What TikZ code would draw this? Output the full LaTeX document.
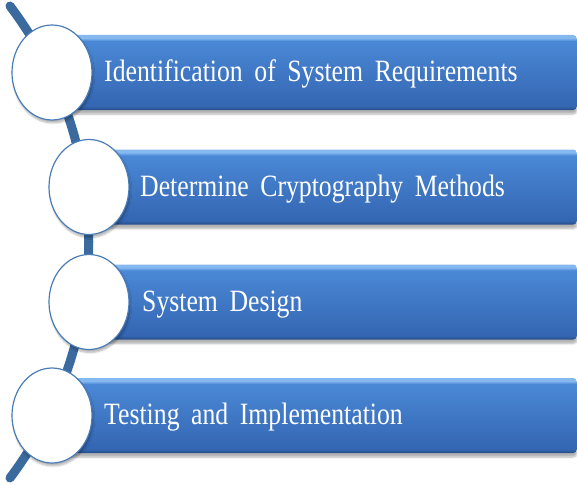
\documentclass[tikz,border=0pt]{standalone}
\usepackage{fontspec}
\setmainfont{Liberation Serif}
\usepackage{graphicx}
\usetikzlibrary{calc,positioning,shapes.geometric,shadows.blur}

\definecolor{spineblue}{HTML}{3A6A9E}
\definecolor{barLight}{HTML}{86B8F0}
\definecolor{barHigh}{HTML}{4A88D6}
\definecolor{barLow}{HTML}{3466B2}
\definecolor{barDark}{HTML}{254C85}
\definecolor{dotline}{HTML}{4A7DB8}

% bevelled bar: light rim on top, dark rim at the bottom
\pgfdeclareverticalshading{barshade}{100bp}{color(0bp)=(barDark); color(25bp)=(barDark); color(27.5bp)=(barLow); color(71bp)=(barHigh); color(73bp)=(barLight); color(75bp)=(barLight); color(100bp)=(barLight)}

% narrow the labels a little and open up the word gaps
\newcommand{\squeeze}[1]{\scalebox{0.83}[1]{\spaceskip=0.45em plus 0.1em\relax #1}}

\begin{document}
\begin{tikzpicture}[x=1pt, y=-1pt,
  stepbar/.style={rectangle, rounded corners=4pt, shading=barshade, minimum height=75pt,
    anchor=west, inner sep=0pt, blur shadow={shadow xshift=0pt, shadow yshift=-4pt, shadow opacity=30, shadow blur steps=6}},
  stepdot/.style={ellipse, draw=dotline, line width=1.2pt, fill=white, minimum width=80pt, minimum height=95pt,
    inner sep=0pt, blur shadow={shadow xshift=1pt, shadow yshift=-3pt, shadow opacity=30, shadow blur steps=6}},
  steptext/.style={anchor=base west, text=white, inner sep=0pt, font=\fontsize{31}{32}\selectfont},
  spine/.style={line width=9pt, draw=spineblue, line cap=round}
]
\useasboundingbox (0,0) rectangle (577,484);

% the curved spine behind everything
\coordinate (spinetop) at (10,6);
\coordinate (spinebot) at (10,478);
\draw[spine] (spinetop) .. controls (115,145) and (115,338) .. (spinebot);

% bars
\node[stepbar, minimum width=525pt] (b1) at (52,72.5) {};
\node[stepbar, minimum width=488pt] (b2) at (89,187) {};
\node[stepbar, minimum width=488pt] (b3) at (89,302) {};
\node[stepbar, minimum width=525pt] (b4) at (52,415.5) {};

% circles on the spine
\node[stepdot] (c1) at (b1.west) {};
\node[stepdot] (c2) at (b2.west) {};
\node[stepdot] (c3) at (b3.west) {};
\node[stepdot] (c4) at (b4.west) {};

% labels
\node[steptext] (t1) at ($(b1.west)+(52,9)$) {\squeeze{Identification of System Requirements}};
\node[steptext] (t2) at ($(b2.west)+(51,9)$) {\squeeze{Determine Cryptography Methods}};
\node[steptext] (t3) at ($(b3.west)+(53,9)$) {\squeeze{System Design}};
\node[steptext] (t4) at ($(b4.west)+(52,9)$) {\squeeze{Testing and Implementation}};
\end{tikzpicture}
\end{document}
